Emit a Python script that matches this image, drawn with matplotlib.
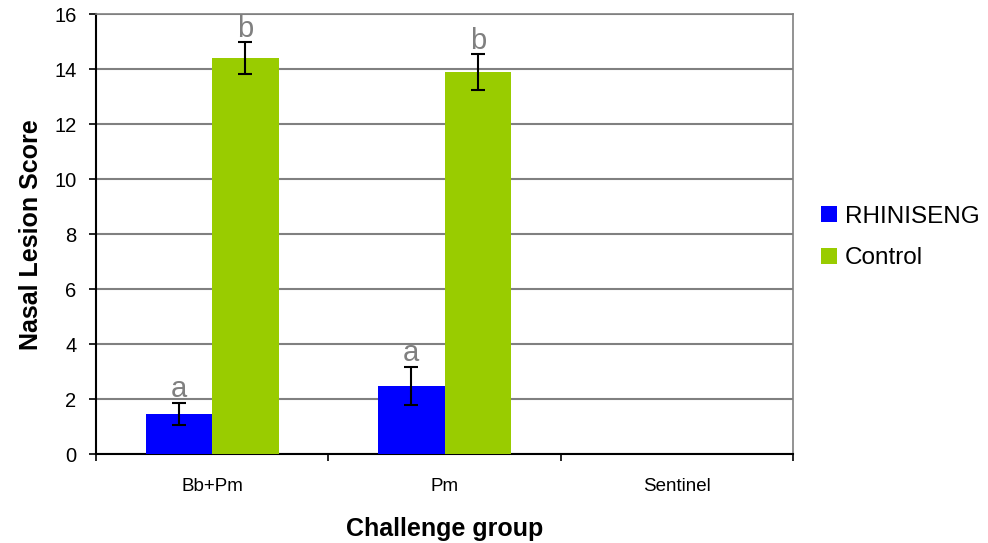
import matplotlib
matplotlib.use("Agg")
import matplotlib.pyplot as plt
import numpy as np

# -- Data -----------------------------------------------------------------------
groups = ["Bb+Pm", "Pm", "Sentinel"]
series = ["RHINISENG", "Control"]
rhiniseng = [1.47, 2.49, 0.0]
rhiniseng_err = [0.41, 0.69, np.nan]
control = [14.42, 13.92, 0.0]
control_err = [0.58, 0.65, np.nan]
rhiniseng_letters = ["a", "a", ""]
control_letters = ["b", "b", ""]

C_BLUE = "#0000FF"
C_GREEN = "#99CC00"
C_GRID = "#808080"
C_LETTER = "#808080"

plt.rcParams["font.family"] = ["Liberation Sans", "DejaVu Sans"]

fig = plt.figure(figsize=(9.88, 5.43), dpi=100, facecolor="white")
ax = fig.add_axes([0.0972, 0.163, 0.7054, 0.8103])

centers = np.arange(len(groups)) + 0.5
width = 0.286

ax.bar(centers - width / 2, rhiniseng, width, color=C_BLUE, linewidth=0,
       label=series[0], zorder=3)
ax.bar(centers + width / 2, control, width, color=C_GREEN, linewidth=0,
       label=series[1], zorder=3)

err_kw = dict(fmt="none", ecolor="black", elinewidth=1.5, capsize=5,
              capthick=1.5, zorder=4)
ax.errorbar(centers - width / 2, rhiniseng, yerr=rhiniseng_err, **err_kw)
ax.errorbar(centers + width / 2, control, yerr=control_err, **err_kw)

# significance letters above the error bars
for x, v, e, t in zip(centers - width / 2, rhiniseng, rhiniseng_err, rhiniseng_letters):
    if t:
        ax.annotate(t, (x, v + e), xytext=(0, 0), textcoords="offset points",
                    ha="center", va="bottom", fontsize=21, color=C_LETTER)
for x, v, e, t in zip(centers + width / 2, control, control_err, control_letters):
    if t:
        ax.annotate(t, (x, v + e), xytext=(0, -1), textcoords="offset points",
                    ha="center", va="bottom", fontsize=21, color=C_LETTER)

ax.set_xlim(0, len(groups))
ax.set_ylim(0, 16)
ax.set_yticks(np.arange(0, 17, 2))
ax.set_xticks(np.arange(len(groups) + 1))
ax.set_xticklabels([])
ax.set_xticks(centers, minor=True)
ax.set_xticklabels(groups, minor=True, fontsize=13.5)
ax.tick_params(axis="x", which="minor", length=0, pad=17)
ax.tick_params(axis="x", which="major", length=5, width=1.2, color="black")
ax.tick_params(axis="y", length=5, width=1.2, labelsize=14.5, pad=9)

ax.grid(True, axis="y", color=C_GRID, linewidth=1.5, zorder=0)
ax.set_axisbelow(True)
for s in ["top", "right"]:
    ax.spines[s].set_color(C_GRID)
    ax.spines[s].set_linewidth(1.2)
for s in ["left", "bottom"]:
    ax.spines[s].set_color("black")
    ax.spines[s].set_linewidth(1.5)

ax.set_ylabel("Nasal Lesion Score", fontsize=18, fontweight="bold", labelpad=8)
ax.set_xlabel("Challenge group", fontsize=18, fontweight="bold", labelpad=16)

ax.legend(loc="center left", bbox_to_anchor=(1.026, 0.493), frameon=False,
          fontsize=17.5, handlelength=0.65, handleheight=0.65, handletextpad=0.35,
          labelspacing=0.8, borderaxespad=0)

fig.savefig("out.png", dpi=100, facecolor="white")
